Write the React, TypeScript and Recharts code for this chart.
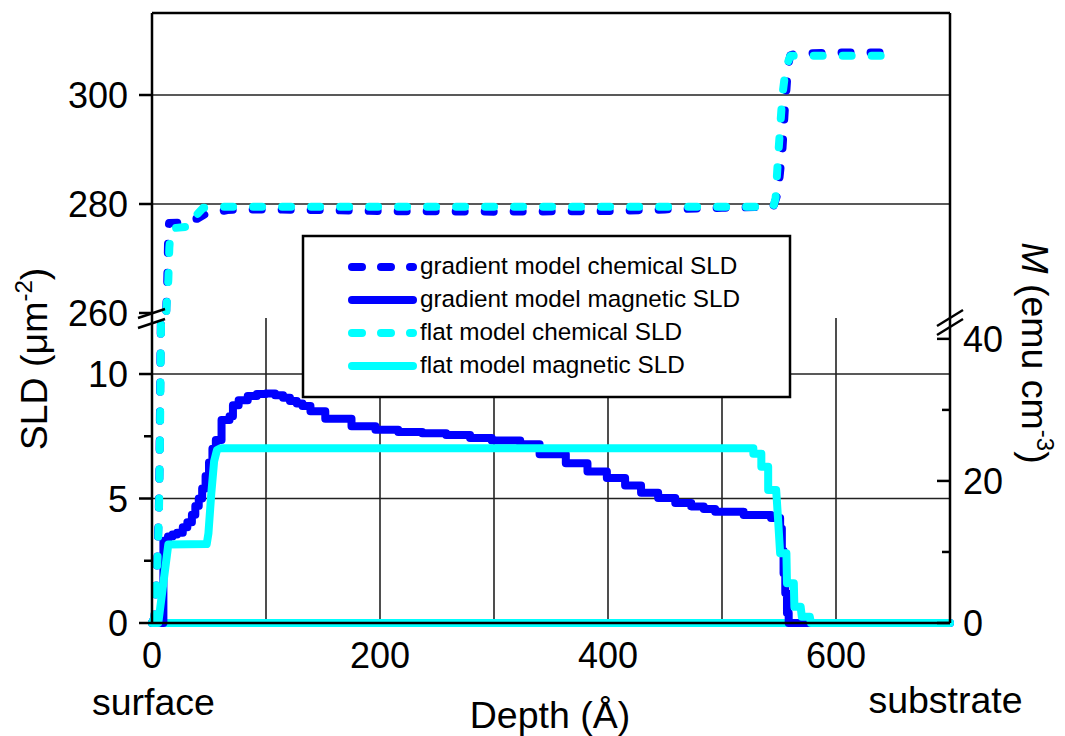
import React from 'react';
import { LineChart, Line, XAxis, YAxis, CartesianGrid } from 'recharts';

const FONT = '"Liberation Sans", Arial, Helvetica, sans-serif';
const BLUE = '#0000ff';
const CYAN = '#00ffff';

type Pair = [number, number];

// depth (Å), SLD (µm^-2)
const gradientChemical: Pair[] = [
  [0, 0], [2, 0.2], [3, 0.8], [4, 1.8], [5, 3], [6, 4.6], [6.5, 6], [7, 8.5], [7.5, 11], [8, 13],
  [12.5, 261], [13.3, 265], [13.8, 270], [14.3, 275.5], [15, 276.5], [27, 276.6], [31, 277.1],
  [40, 277.3], [47, 278.2], [55, 278.4], [66, 278.9], [80, 279.0], [100, 279.0], [150, 278.9],
  [200, 278.7], [300, 278.6], [400, 278.7], [450, 279.0], [500, 279.3], [545, 279.5], [549, 282],
  [551, 286], [553, 290], [555, 297], [556.5, 301], [558, 305.5], [560, 307.3], [565, 307.6],
  [600, 307.8], [650, 307.8],
];

const gradientMagnetic: Pair[] = [
  [0, 0], [10, 3.3], [14, 3.47], [18, 3.55], [22, 3.62], [27, 3.85], [31, 4.05], [35, 4.35],
  [38, 4.7], [41, 5.0], [44, 5.4], [47, 5.9], [50, 6.45], [53, 7.0], [56, 7.35], [61, 8.15],
  [68, 8.3], [71, 8.75], [76, 8.95], [84, 9.12], [92, 9.2], [100, 9.22], [108, 9.15], [115, 9.05],
  [121, 8.92], [127, 8.82], [132, 8.72], [139, 8.5], [152, 8.2], [175, 7.9], [196, 7.76],
  [216, 7.67], [237, 7.62], [258, 7.55], [279, 7.43], [298, 7.33], [323, 7.18], [340, 6.78],
  [363, 6.42], [382, 6.08], [399, 5.82], [415, 5.52], [429, 5.23], [444, 5.02], [459, 4.82],
  [473, 4.68], [484, 4.58], [494, 4.47], [519, 4.34], [543, 4.22], [551, 3.8], [552.5, 2.9],
  [554, 2.0], [555.5, 1.2], [557, 0.4], [558.5, 0], [700, 0],
];

const flatChemical: Pair[] = [
  [0, 0], [2, 0.2], [3, 0.8], [4, 1.7], [5, 2.8], [6, 4.2], [6.5, 5.5], [7, 7.5], [7.5, 10],
  [8, 12.5], [9, 14], [12.5, 260], [13, 262], [14.3, 266], [15.2, 272], [16.5, 275.3],
  [20, 275.6], [30, 275.8], [36, 276.3], [40, 278.2], [45, 279.3], [60, 279.5], [545, 279.5],
  [547, 281], [549, 288], [551, 294], [553, 300], [556, 305], [560, 307.2], [650, 307.2],
];

const flatMagnetic: Pair[] = [
  [0, 0], [5.5, 0], [14.3, 3.15], [48, 3.17], [49.5, 3.6], [52, 5.2], [54.5, 6.5], [57, 6.95],
  [60, 7.02], [527.5, 7.02], [527.5, 6.8], [534.5, 6.8], [534.5, 6.28], [540.5, 6.28],
  [540.5, 5.34], [547.5, 5.34], [549, 4.3], [551, 2.8], [556.5, 2.8], [557, 1.6], [563, 1.6],
  [563.5, 0.65], [569, 0.65], [570, 0.25], [577, 0.25], [578, 0], [700, 0],
];

const zeroLine: Pair[] = [[0, 0], [700, 0]];

const depthTicks = [0, 200, 400, 600];
const depthGrid = [100, 200, 300, 400, 500, 600];
const upperSldTicks = [260, 280, 300];
const upperSldGrid = [280, 300];
const lowerSldTicks = [0, 2.5, 5, 7.5, 10];
const lowerSldMajor = [0, 5, 10];
const lowerSldGrid = [5, 10];
const momentTicks = [0, 10, 20, 30, 40];
const momentMajor = [0, 20, 40];

const legendItems = [
  { name: 'gradient model chemical SLD', color: BLUE, dashed: true },
  { name: 'gradient model magnetic SLD', color: BLUE, dashed: false },
  { name: 'flat model chemical SLD', color: CYAN, dashed: true },
  { name: 'flat model magnetic SLD', color: CYAN, dashed: false },
];

// layout
const WIDTH = 1065;
const HEIGHT = 736;
const BREAK_Y = 318;
const UPPER_EXTRA = 42; // room below the upper panel for the "260" label
const LEFT_W = 152;
const RIGHT_W = 115;
const UPPER_DOMAIN: [number, number] = [259.08, 315.05];
const LOWER_DOMAIN: [number, number] = [0, 12.25];
const SLD_PER_EMU = 0.2853; // µm^-2 per emu cm^-3
const M_DOMAIN: [number, number] = [0, LOWER_DOMAIN[1] / SLD_PER_EMU];
const DASH = '9 20';
const LW = 8;
const AXIS = { stroke: '#000', strokeWidth: 2.5 };
const GRID = '#222';

const toRows = (pairs: Pair[]) => pairs.map(([depth, sld]) => ({ depth, sld }));

const LeftTick = (props: any, majors?: number[]) => {
  const { x, y, payload } = props;
  const v = payload.value;
  const major = !majors || majors.includes(v);
  return (
    <g>
      <line x1={x - (major ? 13 : 8)} x2={x} y1={y} y2={y} stroke="#000" strokeWidth={2.5} />
      {major && (
        <text x={x - 24} y={y + 13} textAnchor="end" fontSize={36} fontFamily={FONT} fill="#000">
          {v}
        </text>
      )}
    </g>
  );
};

const RightTick = (props: any) => {
  const { x, y, payload } = props;
  const v = payload.value;
  const major = momentMajor.includes(v);
  return (
    <g>
      <line x1={x - (major ? 13 : 8)} x2={x} y1={y} y2={y} stroke="#000" strokeWidth={2.5} />
      {major && (
        <text x={x + 13} y={y + 13} textAnchor="start" fontSize={36} fontFamily={FONT} fill="#000">
          {v}
        </text>
      )}
    </g>
  );
};

const BottomTick = (props: any) => {
  const { x, y, payload } = props;
  return (
    <text x={x} y={y + 45} textAnchor="middle" fontSize={36} fontFamily={FONT} fill="#000">
      {payload.value}
    </text>
  );
};

const seriesLine = (key: string, pairs: Pair[], color: string, dashed: boolean, yAxisId: string, type: any = 'linear') => (
  <Line
    key={key}
    yAxisId={yAxisId}
    data={toRows(pairs)}
    dataKey="sld"
    type={type}
    stroke={color}
    strokeWidth={LW}
    strokeDasharray={dashed ? DASH : undefined}
    strokeLinecap="round"
    strokeLinejoin="round"
    dot={false}
    activeDot={false}
    legendType="none"
    isAnimationActive={false}
  />
);

function UpperPanel() {
  return (
    <LineChart width={WIDTH} height={BREAK_Y + UPPER_EXTRA} margin={{ top: 12, right: 0, bottom: UPPER_EXTRA, left: 0 }}>
      <CartesianGrid
        yAxisId="sld"
        stroke={GRID}
        strokeWidth={1.6}
        horizontalValues={upperSldGrid}
        verticalValues={depthGrid}
      />
      {seriesLine('gc', gradientChemical, BLUE, true, 'sld')}
      {seriesLine('fc', flatChemical, CYAN, true, 'sld')}
      <XAxis
        orientation="top"
        type="number"
        dataKey="depth"
        domain={[0, 700]}
        ticks={depthTicks}
        height={1}
        tick={false}
        tickLine={false}
        axisLine={AXIS}
      />
      <YAxis
        yAxisId="sld"
        orientation="left"
        width={LEFT_W}
        domain={UPPER_DOMAIN}
        allowDataOverflow
        ticks={upperSldTicks}
        interval={0}
        tickSize={0}
        tickMargin={0}
        tickLine={false}
        tick={(p: any) => LeftTick(p)}
        axisLine={AXIS}
      />
      <YAxis
        yAxisId="edge"
        orientation="right"
        width={RIGHT_W}
        domain={[0, 1]}
        allowDataOverflow
        tick={false}
        tickLine={false}
        axisLine={AXIS}
      />
    </LineChart>
  );
}

function LowerPanel() {
  return (
    <LineChart width={WIDTH} height={HEIGHT - BREAK_Y} margin={{ top: 0, right: 0, bottom: 0, left: 0 }}>
      <CartesianGrid
        yAxisId="sld"
        stroke={GRID}
        strokeWidth={1.6}
        horizontalValues={lowerSldGrid}
        verticalValues={depthGrid}
      />
      {seriesLine('zero', zeroLine, CYAN, false, 'sld')}
      {seriesLine('gc', gradientChemical, BLUE, true, 'chem')}
      {seriesLine('gm', gradientMagnetic, BLUE, false, 'sld', 'stepAfter')}
      {seriesLine('fc', flatChemical, CYAN, true, 'chem')}
      {seriesLine('fm', flatMagnetic, CYAN, false, 'sld')}
      <XAxis
        orientation="bottom"
        type="number"
        dataKey="depth"
        domain={[0, 700]}
        ticks={depthTicks}
        interval={0}
        height={HEIGHT - BREAK_Y - 305}
        tickSize={0}
        tickMargin={0}
        tickLine={false}
        tick={BottomTick}
        axisLine={AXIS}
      />
      <YAxis
        yAxisId="sld"
        orientation="left"
        width={LEFT_W}
        domain={LOWER_DOMAIN}
        ticks={lowerSldTicks}
        interval={0}
        tickSize={0}
        tickMargin={0}
        tickLine={false}
        tick={(p: any) => LeftTick(p, lowerSldMajor)}
        axisLine={AXIS}
      />
      <YAxis
        yAxisId="M"
        orientation="right"
        width={RIGHT_W}
        domain={M_DOMAIN}
        allowDataOverflow
        ticks={momentTicks}
        interval={0}
        tickSize={0}
        tickMargin={0}
        tickLine={false}
        tick={RightTick}
        axisLine={AXIS}
      />
      <YAxis yAxisId="chem" orientation="right" hide width={0} domain={LOWER_DOMAIN} allowDataOverflow />
    </LineChart>
  );
}

function Decorations() {
  const legendX = 303;
  const legendY = 236;
  const rowY = [267, 300, 333, 366];
  return (
    <svg
      width={WIDTH}
      height={HEIGHT}
      style={{ position: 'absolute', left: 0, top: 0, pointerEvents: 'none' }}
      fontFamily={FONT}
    >
      {/* axis breaks */}
      <g stroke="#000" strokeWidth={2.5}>
        <line x1={138} y1={318} x2={165} y2={309} />
        <line x1={138} y1={328} x2={165} y2={319} />
        <line x1={937} y1={326} x2={963} y2={310} />
        <line x1={937} y1={335} x2={963} y2={319} />
      </g>

      {/* legend */}
      <rect x={legendX} y={legendY} width={487} height={161} fill="#fff" stroke="#000" strokeWidth={2.5} />
      {legendItems.map((it, i) => (
        <g key={it.name}>
          <line
            x1={352}
            x2={413}
            y1={rowY[i]}
            y2={rowY[i]}
            stroke={it.color}
            strokeWidth={LW}
            strokeLinecap="round"
            strokeDasharray={it.dashed ? '10 19' : undefined}
          />
          <text x={420} y={rowY[i] + 7} fontSize={24.3} fill="#000">
            {it.name}
          </text>
        </g>
      ))}

      {/* axis titles */}
      <text x={47} y={359} transform="rotate(-90 47 359)" textAnchor="middle" fontSize={37.5} fill="#000">
        SLD (μm<tspan dy={-15} fontSize={24}>-2</tspan>
        <tspan dy={15}>)</tspan>
      </text>
      <text x={1022} y={353} transform="rotate(90 1022 353)" textAnchor="middle" fontSize={37.5} fill="#000">
        <tspan fontStyle="italic">M</tspan> (emu cm<tspan dy={-15} fontSize={24}>-3</tspan>
        <tspan dy={15}>)</tspan>
      </text>
      <text x={550} y={728} textAnchor="middle" fontSize={37.5} fill="#000">
        Depth (Å)
      </text>
      <text x={153.5} y={715} textAnchor="middle" fontSize={37.5} fill="#000">
        surface
      </text>
      <text x={945.5} y={713} textAnchor="middle" fontSize={37.5} fill="#000">
        substrate
      </text>
    </svg>
  );
}

export default function App() {
  return (
    <div style={{ position: 'absolute', left: 0, top: 0, width: WIDTH, height: HEIGHT, background: '#fff' }}>
      <div style={{ position: 'absolute', left: 0, top: 0 }}>
        <UpperPanel />
      </div>
      <div style={{ position: 'absolute', left: 0, top: BREAK_Y }}>
        <LowerPanel />
      </div>
      <Decorations />
    </div>
  );
}
